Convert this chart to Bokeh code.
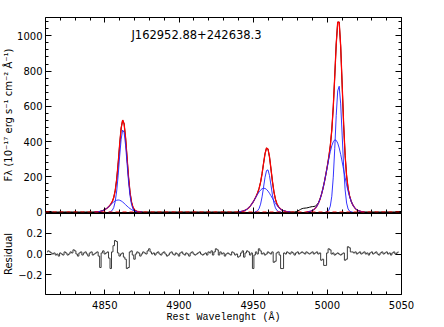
import numpy as np
from bokeh.plotting import figure
from bokeh.models import (Range1d, LinearAxis, SingleIntervalTicker, FixedTicker,
                          Label, Span, CustomJSTickFormatter)
from bokeh.layouts import column
from bokeh.embed import file_html
from bokeh.resources import INLINE

# ---------------- data ----------------
title_text = "J162952.88+242638.3"
x_ticks_major = 50
y_ticks_major = 200
res_ticks = [-0.2, 0.0, 0.2]

# H-beta narrow component (1 A steps from 4853)
hb_n_start = 4853
hb_n_flux = [1, 3, 9, 25, 59, 119, 209, 317, 413, 465, 451, 378, 273, 170, 91, 42, 17, 6, 2, 0.4]
# H-beta broad component (from 4843)
hb_b_start = 4843
hb_b_flux = [0.4, 0.8, 1.3, 2.3, 3.8, 6.0, 9.2, 13.5, 18.9, 25.5, 33.1, 41.2, 49.4, 56.8, 62.8, 66.6,
             68.0, 66.6, 62.8, 56.8, 49.4, 41.2, 33.1, 25.5, 18.9, 13.5, 9.2, 6.0, 3.8, 2.3, 1.3, 0.8, 0.4]
# [OIII]4959 narrow (from 4951)
o1_n_start = 4951
o1_n_flux = [0.7, 2.4, 7.4, 19.7, 44.5, 85.8, 140.9, 197.2, 235.1, 238.9, 206.9, 152.6, 96.0, 51.4,
             23.5, 9.1, 3.0, 0.9, 0.2]
# [OIII]4959 broad (from 4940)
o1_b_start = 4940
o1_b_flux = [1.0, 1.8, 3.0, 4.8, 7.6, 11.5, 17.0, 24.2, 33.3, 44.4, 57.3, 71.5, 86.4, 100.9, 114.0,
             124.6, 131.8, 134.9, 133.6, 128.0, 118.6, 106.3, 92.3, 77.4, 62.9, 49.4, 37.5, 27.6,
             19.6, 13.5, 9.0, 5.8, 3.6, 2.2, 1.3, 0.7]
# [OIII]5007 narrow (from 4999)
o3_n_start = 4999
o3_n_flux = [0.6, 2.7, 10.3, 33.4, 89.2, 197.4, 361.3, 547.8, 687.2, 713.7, 613.5, 436.6, 257.2,
             125.4, 50.6, 16.9, 4.7, 1.0, 0.2]
# [OIII]5007 broad (from 4986)
o3_b_start = 4986
o3_b_flux = [0.9, 1.6, 2.9, 5.1, 8.6, 14.0, 22.0, 33.6, 49.7, 71.0, 98.2, 131.3, 169.9, 212.8,
             257.7, 302.0, 342.5, 375.7, 398.7, 409.4, 406.7, 390.9, 363.5, 327.0, 284.6, 239.6,
             195.2, 153.9, 117.3, 86.6, 61.8, 42.7, 28.5, 18.4, 11.5, 7.0, 4.1, 2.3, 1.3, 0.7]
# observed flux above the model (shoulder blueward of 5007), from 4978
excess_start = 4978
excess_flux = [0, 2, 5, 10, 15, 19, 21, 22, 22, 23, 24, 24, 22, 17, 12, 7, 3, 1, 0]
continuum_level = 0.0

# residuals, 1 A steps from 4811
res_start = 4811
res_vals = [
    0.02, 0.03, 0.02, 0.01, 0.00, 0.01, -0.01, 0.00, -0.02, 0.01,
    0.00, -0.01, 0.02, 0.01, -0.01, 0.00, 0.02, 0.01, 0.04, 0.03,
    0.00, -0.02, 0.01, 0.02, -0.01, 0.01, 0.02, 0.00, -0.02, 0.01,
    0.02, -0.01, 0.00, 0.01, 0.02, -0.02, -0.13, 0.01, 0.03, 0.00,
    0.01, 0.02, -0.04, -0.14, 0.02, 0.08, 0.13, 0.12, 0.01, -0.02,
    0.00, 0.01, -0.03, -0.05, -0.14, -0.13, 0.02, 0.03, -0.01, -0.05,
    0.00, 0.02, 0.01, -0.02, 0.00, 0.02, 0.01, 0.00, 0.03, 0.05,
    0.02, 0.00, 0.01, -0.01, 0.01, 0.02, 0.00, -0.01, 0.01, 0.02,
    0.00, -0.02, -0.01, 0.01, 0.02, 0.00, -0.01, 0.01, 0.00, -0.02,
    0.01, 0.02, 0.00, -0.01, 0.01, 0.00, -0.02, 0.01, 0.02, 0.00,
    -0.01, 0.00, 0.01, 0.02, 0.00, -0.01, 0.00, 0.01, -0.01, 0.02,
    0.01, 0.03, -0.01, 0.02, 0.05, 0.04, -0.01, 0.02, 0.00, 0.01,
    -0.02, 0.00, 0.01, 0.00, -0.01, 0.02, 0.01, -0.01, 0.00, -0.03,
    -0.02, 0.01, 0.03, -0.03, 0.01, 0.03, 0.02, -0.01, 0.01, -0.14,
    -0.01, 0.02, 0.00, 0.05, 0.03, 0.00, 0.01, -0.01, 0.00, 0.02,
    0.01, 0.00, 0.02, -0.08, -0.07, 0.01, 0.02, -0.01, -0.14, -0.14,
    0.01, 0.00, 0.02, 0.01, 0.00, 0.02, 0.01, -0.01, 0.01, 0.02,
    0.00, 0.01, 0.02, 0.01, 0.00, 0.02, 0.01, 0.00, 0.01, 0.02,
    0.00, 0.01, 0.02, 0.00, 0.01, -0.06, -0.05, -0.11, -0.11, 0.01,
    0.05, 0.04, 0.00, 0.01, -0.01, 0.00, 0.01, 0.00, -0.01, 0.00,
    0.01, -0.06, -0.05, 0.07, 0.06, 0.02, 0.02, 0.01, 0.02, 0.00,
    0.01, 0.02, 0.00, 0.01, 0.02, 0.00, 0.01, -0.01, 0.01, 0.02,
    0.00, 0.01, 0.02, 0.00, -0.01, 0.01, 0.02, 0.00, 0.01, 0.02,
    0.00, 0.01, -0.01, 0.01, 0.02, 0.00, 0.01, 0.02,
]

# ---------------- assemble ----------------
x_lo, x_hi = 4810, 5050
grid = np.arange(x_lo, x_hi + 1)
components = [(hb_n_start, hb_n_flux), (hb_b_start, hb_b_flux),
              (o1_n_start, o1_n_flux), (o1_b_start, o1_b_flux),
              (o3_n_start, o3_n_flux), (o3_b_start, o3_b_flux)]
total = np.zeros(len(grid))
for s, f in components:
    i0 = s - x_lo
    total[i0:i0 + len(f)] += np.array(f, dtype=float)
data_flux = total.copy()
i0 = excess_start - x_lo
data_flux[i0:i0 + len(excess_flux)] += np.array(excess_flux, dtype=float)
model_red = np.where(total > 0.3, total, np.nan)

RED = "#ff0000"
BLUE = "#1f1fff"
FONT = "DejaVu Sans"

x_range = Range1d(x_lo, x_hi)
xtick = SingleIntervalTicker(interval=x_ticks_major, num_minor_ticks=5)


def style(ax, labels=True, major=5, minor=3):
    ax.major_tick_in = major
    ax.major_tick_out = 0
    ax.minor_tick_in = minor
    ax.minor_tick_out = 0
    ax.axis_line_color = None
    ax.major_tick_line_color = "black"
    ax.minor_tick_line_color = "black"
    ax.major_label_text_font = FONT
    ax.major_label_text_font_size = "10px"
    ax.major_label_text_color = "black"
    ax.axis_label_text_font = FONT
    ax.axis_label_text_font_style = "normal"
    ax.axis_label_text_color = "black"
    if not labels:
        ax.major_label_text_font_size = "0px"
        ax.major_label_text_color = None
        ax.major_label_standoff = 0


# ---------------- top panel ----------------
p1 = figure(frame_width=356, frame_height=195, x_range=x_range, y_range=Range1d(-3, 1104),
            output_backend="svg", toolbar_location=None,
            x_axis_location=None, y_axis_location=None,
            min_border_left=44, min_border_right=30, min_border_top=17, min_border_bottom=8)
p1.outline_line_color = "black"
p1.outline_line_width = 1
p1.background_fill_color = "white"
p1.border_fill_color = "white"

ytick = SingleIntervalTicker(interval=y_ticks_major, num_minor_ticks=5)
yl = LinearAxis(ticker=ytick,
                axis_label="F\u03bb (10\u207b\u00b9\u2077 erg s\u207b\u00b9 cm\u207b\u00b2 \u00c5\u207b\u00b9)")
style(yl, True, 6, 3)
yl.major_label_standoff = 3
yl.axis_label_text_font_size = "10px"
yl.axis_label_standoff = 0
p1.add_layout(yl, "left")
yr = LinearAxis(ticker=ytick)
style(yr, False, 6, 3)
p1.add_layout(yr, "right")
xa = LinearAxis(ticker=xtick)
style(xa, False, 5, 3)
p1.add_layout(xa, "above")
xb = LinearAxis(ticker=xtick)
style(xb, False, 5, 3)
p1.add_layout(xb, "below")
for g in p1.grid:
    g.visible = False

p1.line(grid, data_flux, line_color="black", line_width=1)
p1.line(grid, model_red, line_color=RED, line_width=1.3)
for s, f in components:
    p1.line(np.arange(s, s + len(f)), f, line_color=BLUE, line_width=1, line_alpha=0.9)
p1.add_layout(Span(location=continuum_level, dimension="width", line_color=RED,
                   line_width=1, line_dash="4 3"))

p1.add_layout(Label(x=4911.8, y=1003, text=title_text, text_font=FONT, text_font_size="11.5px",
                    text_align="center", text_baseline="middle", text_color="black"))

# ---------------- residual panel ----------------
p2 = figure(frame_width=356, frame_height=81, x_range=x_range, y_range=Range1d(-0.39, 0.39),
            output_backend="svg", toolbar_location=None,
            x_axis_location=None, y_axis_location=None,
            min_border_left=44, min_border_right=30, min_border_top=0, min_border_bottom=0)
p2.margin = (-7, 0, 0, 0)   # sit directly under the top frame
p2.outline_line_color = "black"
p2.outline_line_width = 1
p2.background_fill_color = "white"
p2.border_fill_color = None

rtick = FixedTicker(ticks=res_ticks, minor_ticks=[])
rfmt = CustomJSTickFormatter(code="return tick.toFixed(1).replace('-', '\u2212');")
rl = LinearAxis(ticker=rtick, formatter=rfmt, axis_label="Residual")
style(rl, True, 6, 3)
rl.major_label_standoff = 3
rl.axis_label_text_font_size = "10px"
rl.axis_label_standoff = 1
p2.add_layout(rl, "left")
rr = LinearAxis(ticker=rtick)
style(rr, False, 6, 3)
p2.add_layout(rr, "right")
xt = LinearAxis(ticker=xtick)
style(xt, False, 5, 3)
p2.add_layout(xt, "above")
xbot = LinearAxis(ticker=xtick, axis_label="Rest Wavelenght (\u00c5)")
style(xbot, True, 5, 3)
xbot.major_label_standoff = 6
xbot.axis_label_text_font = "Liberation Mono"
xbot.axis_label_text_font_size = "10px"
xbot.axis_label_standoff = 0
p2.add_layout(xbot, "below")
for g in p2.grid:
    g.visible = False

res_wave = np.arange(res_start, res_start + len(res_vals))
p2.step(res_wave, res_vals, mode="center", line_color="#3c3c3c", line_width=1)

layout = column(p1, p2, spacing=0)
open("out.html", "w").write(file_html(layout, INLINE))
